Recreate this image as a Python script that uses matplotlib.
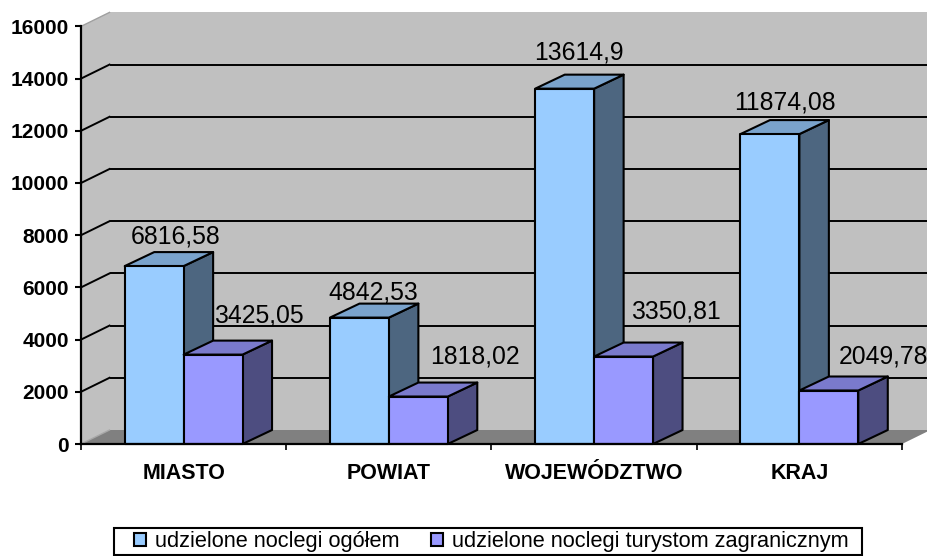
import matplotlib
matplotlib.use('Agg')
import matplotlib.pyplot as plt
from matplotlib.patches import Polygon, Patch, Rectangle

plt.rcParams['font.family'] = ['Liberation Sans', 'DejaVu Sans']

# dane
categories = ['MIASTO', 'POWIAT', 'WOJEWÓDZTWO', 'KRAJ']
noclegi_ogolem = [6816.58, 4842.53, 13614.9, 11874.08]
noclegi_zagr = [3425.05, 1818.02, 3350.81, 2049.78]
label_ogolem = ['6816,58', '4842,53', '13614,9', '11874,08']
label_zagr = ['3425,05', '1818,02', '3350,81', '2049,78']
yticks = [0, 2000, 4000, 6000, 8000, 10000, 12000, 14000, 16000]

# przesuniecia etykiet w pikselach (wzgledem srodka gornej krawedzi z tylu)
off_ogolem = [(7, 6), (-1, 2), (-1, 13), (0, 8)]
off_zagr = [(31, 16), (42, 17), (38, 22), (40, 11)]

W, H = 928, 556
fig = plt.figure(figsize=(W / 100, H / 100), dpi=100)
ax = fig.add_axes([81 / W, 1 - 444 / H, (902 - 81) / W, (444 - 26.4) / H])
ax.set_xlim(0, 4)
ax.set_ylim(0, 16000)
ax.patch.set_visible(False)

px_x = 4 / (902 - 81)
px_y = 16000 / (444 - 26.4)
wall_dx, wall_dy = 28.5 * px_x, 14 * px_y
bar_dx, bar_dy = 29.5 * px_x, 14 * px_y
bar_w = 0.287
bar_off = 0.213


def poly(pts, fc, ec='none', lw=0, z=1):
    ax.add_patch(Polygon(pts, closed=True, facecolor=fc, edgecolor=ec, linewidth=lw,
                         zorder=z, clip_on=False, joinstyle='round'))


# sciany i podloga
poly([(0, 0), (wall_dx, wall_dy), (wall_dx, 16000 + wall_dy), (0, 16000)], '#C0C0C0')
poly([(wall_dx, wall_dy), (4 + wall_dx, wall_dy), (4 + wall_dx, 16000 + wall_dy), (wall_dx, 16000 + wall_dy)], '#C0C0C0')
poly([(0, 0), (4, 0), (4 + wall_dx, wall_dy), (wall_dx, wall_dy)], '#808080')
ax.plot([0, wall_dx], [0, wall_dy], color='#A8A8A8', lw=1, zorder=1.5, clip_on=False)
ax.plot([0, wall_dx], [16000, 16000 + wall_dy], color='#A0A0A0', lw=1, zorder=1.5, clip_on=False)

# siatka
for v in yticks[1:-1]:
    ax.plot([0, wall_dx], [v, v + wall_dy], color='black', lw=1.4, zorder=2, clip_on=False)
    ax.plot([wall_dx + 2 * px_x, 4 + wall_dx], [v + wall_dy, v + wall_dy], color='black', lw=1.4,
            zorder=2, clip_on=False)


def bar3d(x0, val, front, top, side, z):
    x1 = x0 + bar_w
    ek = 'black'
    poly([(x1, 0), (x1 + bar_dx, bar_dy), (x1 + bar_dx, val + bar_dy), (x1, val)], side, ek, 1.5, z)
    poly([(x0, val), (x1, val), (x1 + bar_dx, val + bar_dy), (x0 + bar_dx, val + bar_dy)], top, ek, 1.5, z)
    poly([(x0, 0), (x1, 0), (x1, val), (x0, val)], front, ek, 1.5, z)


def bar_label(x0, val, txt, off):
    ax.annotate(txt, xy=(x0 + bar_w / 2 + bar_dx / 2, val + bar_dy),
                xytext=(off[0] * 0.72, off[1] * 0.72 - 2), textcoords='offset points',
                ha='center', va='bottom', fontsize=17.8, color='black', zorder=20, annotation_clip=False)


for i in range(len(categories)):
    x_a = i + bar_off
    x_b = x_a + bar_w
    bar3d(x_a, noclegi_ogolem[i], '#99CCFF', '#7AA3CC', '#4D6680', 5 + i)
    bar3d(x_b, noclegi_zagr[i], '#9999FF', '#7A7ACC', '#4D4D80', 5.5 + i)
    bar_label(x_a, noclegi_ogolem[i], label_ogolem[i], off_ogolem[i])
    bar_label(x_b, noclegi_zagr[i], label_zagr[i], off_zagr[i])

# osie
for s in ['top', 'right']:
    ax.spines[s].set_visible(False)
for s in ['left', 'bottom']:
    ax.spines[s].set_linewidth(1.6)
    ax.spines[s].set_zorder(15)
ax.set_yticks(yticks)
ax.set_yticklabels([str(v) for v in yticks], fontsize=15, fontweight='bold')
ax.set_xticks(range(5))
ax.set_xticklabels([])
ax.set_xticks([i + 0.5 for i in range(4)], minor=True)
ax.set_xticklabels(categories, minor=True, fontsize=15.5, fontweight='bold')
ax.tick_params(axis='y', length=4.5, width=1.5, pad=4)
ax.tick_params(axis='x', which='major', length=4.5, width=1.2)
ax.tick_params(axis='x', which='minor', length=0, pad=14)

# legenda - ramka osobno, bo ma rozne marginesy
fig.add_artist(Rectangle((114.5 / W, 1 - 554.5 / H), (862.5 - 114.5) / W, (554.5 - 528) / H,
                         transform=fig.transFigure, facecolor='white', edgecolor='black', linewidth=1.5))
handles = [Patch(facecolor='#99CCFF', edgecolor='black', linewidth=1.5),
           Patch(facecolor='#9999FF', edgecolor='black', linewidth=1.5)]
leg = fig.legend(handles, ['udzielone noclegi ogółem', 'udzielone noclegi turystom zagranicznym'],
                 ncol=2, loc='center', bbox_to_anchor=(491 / W, 1 - 542 / H), fontsize=15.65,
                 frameon=False, handlelength=0.55, handleheight=0.55,
                 handletextpad=0.42, columnspacing=1.45, borderpad=0, borderaxespad=0)

plt.savefig('out.png', dpi=100)
